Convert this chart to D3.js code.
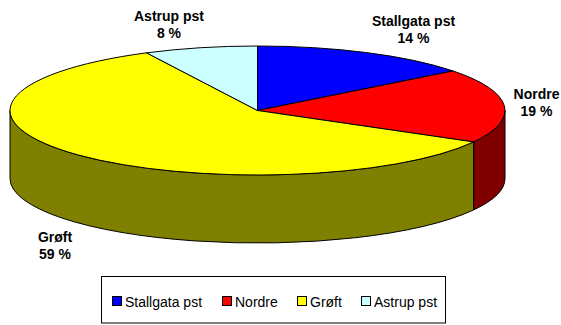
<!DOCTYPE html>
<html><head><meta charset="utf-8">
<script src="https://cdn.jsdelivr.net/npm/d3@7/dist/d3.min.js"></script>
<style>html,body{margin:0;padding:0;background:#fff}svg{display:block}text{font-family:"Liberation Sans",Arial,sans-serif;fill:#000}</style>
</head><body><svg id="c" width="561" height="325"></svg>
<script>
const categories = ["Stallgata pst","Nordre","Grøft","Astrup pst"];
const values = [14.5,18.6,59.5,7.4];
const shownPct = ["14 %","19 %","59 %","8 %"];
const topColors = ["#0000ff","#ff0000","#ffff00","#ccffff"];
const sideColors = ["#000080","#800000","#808000","#669999"];
const labelPos = [[413.5,26],[536.5,99],[55,242],[169,21]];
const legendX = [112.5,222.5,297.5,361.5];

const svg = d3.select("#c");
const L=10,R=505,T=46,B=175,depth=68;
const rx=(R-L)/2, ry=(B-T)/2;
const sx=d3.scaleLinear().domain([-1,1]).range([L,R]);
const sy=d3.scaleLinear().domain([-1,1]).range([B,T]);
const px=a=>sx(Math.sin(a)), py=a=>sy(Math.cos(a));
const arcs=d3.pie().sort(null).value(d=>d)(values);
const stroke="#000";

arcs.forEach((d,i)=>{
  const a=Math.max(d.startAngle,Math.PI/2), b=Math.min(d.endAngle,Math.PI*1.5);
  if(b<=a) return;
  const large=(b-a)>Math.PI?1:0;
  const p=`M${px(a)},${py(a)}A${rx},${ry} 0 ${large} 1 ${px(b)},${py(b)}`+
    `L${px(b)},${py(b)+depth}A${rx},${ry} 0 ${large} 0 ${px(a)},${py(a)+depth}Z`;
  svg.append("path").attr("d",p).attr("fill",sideColors[i]).attr("stroke",stroke).attr("stroke-width",1).attr("stroke-linejoin","round");
});
arcs.forEach((d,i)=>{
  const a=d.startAngle,b=d.endAngle;
  const large=(b-a)>Math.PI?1:0;
  const p=`M${sx(0)},${sy(0)}L${px(a)},${py(a)}A${rx},${ry} 0 ${large} 1 ${px(b)},${py(b)}Z`;
  svg.append("path").attr("d",p).attr("fill",topColors[i]).attr("stroke",stroke).attr("stroke-width",1).attr("stroke-linejoin","round");
});
categories.forEach((c,i)=>{
  const t=svg.append("text").attr("text-anchor","middle").attr("font-weight","bold").attr("font-size",14);
  t.append("tspan").attr("x",labelPos[i][0]).attr("y",labelPos[i][1]).text(c);
  t.append("tspan").attr("x",labelPos[i][0]).attr("y",labelPos[i][1]+17).text(shownPct[i]);
});
svg.append("rect").attr("x",101.5).attr("y",276.5).attr("width",344).attr("height",46.5).attr("fill","#fff").attr("stroke","#000").attr("stroke-width",1);
categories.forEach((c,i)=>{
  svg.append("rect").attr("x",legendX[i]).attr("y",296.5).attr("width",9).attr("height",9).attr("fill",topColors[i]).attr("stroke","#000");
  svg.append("text").attr("x",legendX[i]+12.5).attr("y",306.5).attr("font-size",14).text(c);
});
</script></body></html>
